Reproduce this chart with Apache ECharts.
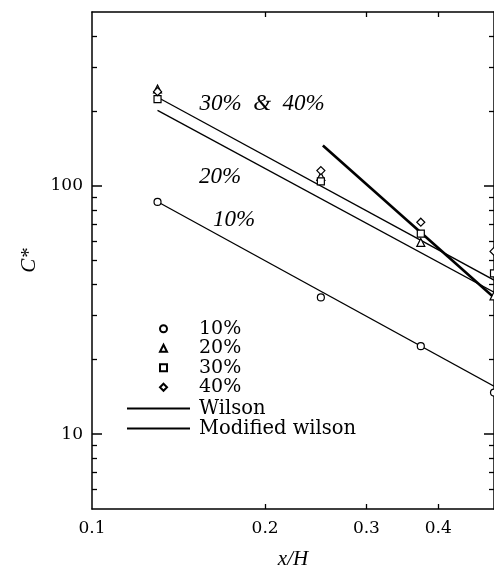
<!DOCTYPE html>
<html>
<head>
<meta charset="utf-8">
<script src="https://cdn.jsdelivr.net/npm/echarts@6/dist/echarts.min.js"></script>
<style>
html,body{margin:0;padding:0;background:#fff;}
#chart{width:494px;height:570px;}
</style>
</head>
<body>
<div id="chart"></div>
<script>
// ---- data ----
const xPos = [0.13, 0.25, 0.373, 0.5];
const c10 = [86, 35.5, 22.6, 14.7];
const c20 = [245, 109, 59.1, 36];
const c30 = [223, 104, 64.1, 44.4];
const c40 = [239, 115, 71.3, 54.4];
const wilson10 = [[0.13, 86.2], [0.5, 15.6]];
const wilson20 = [[0.13, 201], [0.5, 37.3]];
const wilson3040 = [[0.13, 227], [0.5, 41.7]];
const modifiedWilson = [[0.252, 145], [0.5, 35.5]];
const xTickLabels = [0.1, 0.2, 0.3, 0.4];
const xTicks = [0.2, 0.3, 0.4];
const yMajor = [10, 100];
const yMinor = [6, 7, 8, 9, 20, 30, 40, 50, 60, 70, 80, 90, 200, 300, 400];
const annotTexts = ['30%  &  40%', '20%', '10%'];
const annotAt = [[0.1976, 213], [0.167, 108.7], [0.1766, 73]];

const serif = '"DejaVu Serif", serif';
const ital = '"Liberation Serif", serif';
const pts = (ys) => xPos.map((x, i) => [x, ys[i]]);

const chart = echarts.init(document.getElementById('chart'));
const black = '#000';
const yBase = {type: 'log', logBase: 10, min: 5, max: 500, splitLine: {show: false}, axisLabel: {show: false}};
const scat = (name, sym, ys, size) => ({
  name, type: 'scatter', data: pts(ys), symbol: sym, symbolSize: size,
  itemStyle: {color: '#fff', borderColor: black, borderWidth: 1.2, opacity: 1},
  z: 5, clip: false
});
const line = (name, data, w) => ({
  name, type: 'line', data, symbol: 'none', showSymbol: false,
  lineStyle: {color: black, width: w}, itemStyle: {color: black}, z: 3
});

chart.setOption({
  animation: false,
  backgroundColor: '#fff',
  grid: {left: 92, right: 0, top: 12, bottom: 61, outerBoundsMode: 'none', containLabel: false},
  xAxis: [
    {type: 'log', logBase: 10, min: 0.1, max: 0.5, position: 'bottom',
     axisLine: {lineStyle: {color: black, width: 1.5}},
     axisTick: {inside: true, length: 5, customValues: xTicks, lineStyle: {color: black, width: 1.3}},
     axisLabel: {customValues: xTickLabels, color: black, fontFamily: serif, fontSize: 17, margin: 11,
                 formatter: v => String(+(+v).toPrecision(3))},
     splitLine: {show: false},
     name: 'x/H', nameLocation: 'middle', nameGap: 40,
     nameTextStyle: {color: black, fontFamily: ital, fontStyle: 'italic', fontSize: 21}},
    {type: 'log', logBase: 10, min: 0.1, max: 0.5, position: 'top',
     axisLine: {lineStyle: {color: black, width: 1.5}},
     axisTick: {inside: true, length: 5, customValues: xTicks, lineStyle: {color: black, width: 1.3}},
     axisLabel: {show: false}, splitLine: {show: false}}
  ],
  yAxis: [
    Object.assign({}, yBase, {position: 'left',
      axisLine: {lineStyle: {color: black, width: 1.5}},
      axisTick: {inside: true, length: 10, customValues: yMajor, lineStyle: {color: black, width: 1.5}},
      axisLabel: {show: true, customValues: yMajor, color: black, fontFamily: serif, fontSize: 17, margin: 9},
      name: 'C*', nameLocation: 'middle', nameGap: 49, nameRotate: 90,
      nameTextStyle: {color: black, fontFamily: ital, fontStyle: 'italic', fontSize: 21}}),
    Object.assign({}, yBase, {position: 'left', axisLine: {show: false},
      axisTick: {inside: true, length: 5, customValues: yMinor, lineStyle: {color: black, width: 1.3}}}),
    Object.assign({}, yBase, {position: 'right', axisLine: {lineStyle: {color: black, width: 1.5}},
      axisTick: {inside: true, length: 10, customValues: yMajor, lineStyle: {color: black, width: 1.5}}}),
    Object.assign({}, yBase, {position: 'right', axisLine: {show: false},
      axisTick: {inside: true, length: 5, customValues: yMinor, lineStyle: {color: black, width: 1.3}}})
  ],
  legend: [
    {data: ['10%', '20%', '30%', '40%'], orient: 'vertical', left: 154, top: 314,
     itemWidth: 7, itemHeight: 7, itemGap: 0, selectedMode: false,
     textStyle: {color: black, fontFamily: serif, fontSize: 19, lineHeight: 19.5, padding: [0, 0, 0, 27]}},
    {data: ['Wilson', 'Modified wilson'], icon: 'rect',
     orient: 'vertical', left: 122, top: 393.5,
     itemWidth: 63, itemHeight: 2, itemGap: 0, selectedMode: false,
     itemStyle: {color: black, borderWidth: 0},
     textStyle: {color: black, fontFamily: serif, fontSize: 19.5, lineHeight: 19, padding: [0, 0, 0, 4]}}
  ],
  series: [
    line('Wilson', wilson10, 1.3),
    line('Wilson', wilson20, 1.3),
    line('Wilson', wilson3040, 1.3),
    line('Modified wilson', modifiedWilson, 2.6),
    scat('10%', 'circle', c10, 7),
    scat('20%', 'triangle', c20, 8),
    scat('30%', 'rect', c30, 7),
    scat('40%', 'diamond', c40, 8),
    {name: 'annotations', type: 'scatter', symbolSize: 0, silent: true, z: 6,
     itemStyle: {opacity: 1},
     data: annotAt.map((p, i) => ({value: p, label: {formatter: annotTexts[i]}})),
     label: {show: true, position: 'inside', color: black, fontFamily: ital, fontStyle: 'italic', fontSize: 23}}
  ]
});
</script>
</body>
</html>
